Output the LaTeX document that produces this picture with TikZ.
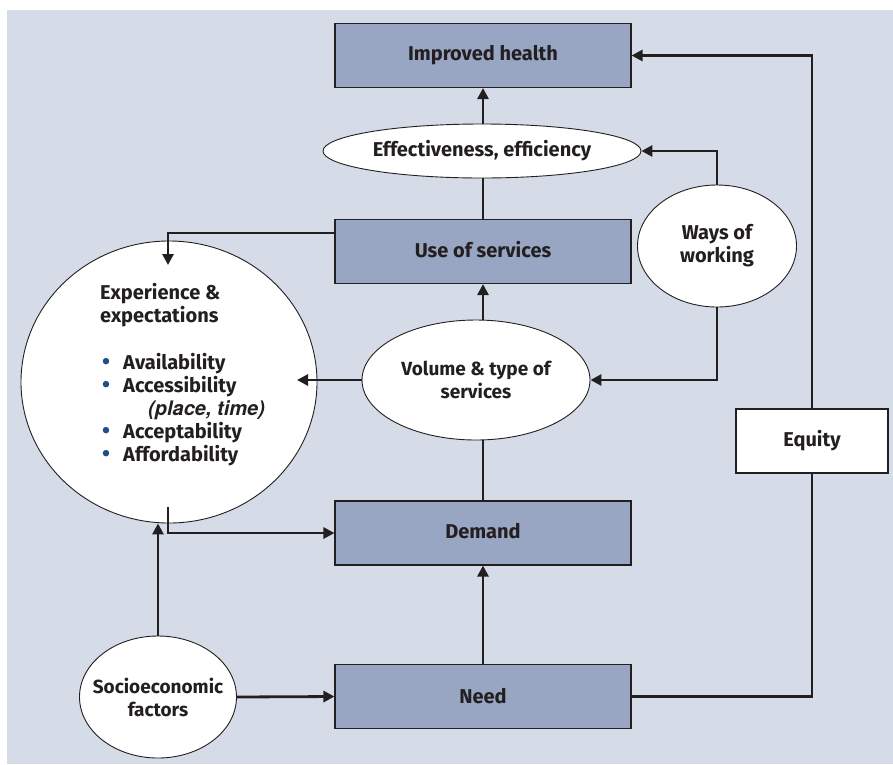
\documentclass[tikz,border=0pt]{standalone}
\usepackage{fontspec}
\usepackage{graphicx}
\setmainfont{Fira Sans}
\newfontfamily\heros{TeX Gyre Heros}
\usetikzlibrary{arrows.meta,shapes.geometric}

\definecolor{panel}{HTML}{D5DBE7}
\definecolor{boxfill}{HTML}{98A6C3}
\definecolor{ink}{HTML}{231F20}
\definecolor{bul}{HTML}{1F4E8C}

\newcommand{\blt}{\makebox[23pt][l]{\hspace*{2pt}\textcolor{bul}{\scalebox{1.15}{•}}}}

\tikzset{
  every node/.style={font=\fontsize{20}{23}\selectfont\bfseries, text=ink},
  bluebox/.style={draw=ink, line width=1.1pt, fill=boxfill, rectangle,
    minimum width=296pt, minimum height=64pt, inner sep=0pt},
  whitebox/.style={draw=ink, line width=1.1pt, fill=white, rectangle,
    minimum width=152pt, minimum height=64pt, inner sep=0pt},
  oval/.style={draw=ink, line width=0.9pt, fill=white, ellipse,
    inner sep=0pt, align=center},
  label/.style={inner sep=0pt, align=center},
  link/.style={draw=ink, line width=2.8pt},
  arr/.style={link, -{Triangle[length=11pt,width=11pt]}},
}

\begin{document}
\begin{tikzpicture}[x=1pt,y=-1pt]
  \useasboundingbox (0,0) rectangle (893,764);
  \fill[panel] (7,10) rectangle (893,764);

  % main chain of boxes
  \node[bluebox] (ih)   at (483,55.5)  {Improved health};
  \node[bluebox] (use)  at (483,251.5) {\raisebox{4pt}{Use of services}};
  \node[bluebox] (dem)  at (483,533)   {\raisebox{4pt}{Demand}};
  \node[bluebox] (need) at (483,696.5) {Need};
  \node[whitebox] (eq)  at (812,441)   {Equity};

  % ovals, drawn empty so that their size stays fixed; labels on top
  \node[oval, minimum width=318pt, minimum height=54pt]  (eff)  at (482,151) {};
  \node[oval, minimum width=159pt, minimum height=122pt] (ways) at (717,246) {};
  \node[oval, minimum width=228pt, minimum height=120pt] (vol)  at (476,380) {};
  \node[oval, minimum width=157pt, minimum height=122pt] (soc)  at (158,697) {};
  \node[oval, minimum width=296pt, minimum height=282pt] (exp)  at (169,382) {};

  \node[label] (efflbl)  at (eff)  {Effectiveness, efficiency};
  \node[label] (wayslbl) at (ways) {Ways of\\working};
  \node[label, font=\fontsize{19}{23}\selectfont\bfseries] (vollbl) at (vol) {Volume \& type of\\services};
  \node[label, font=\fontsize{19}{23}\selectfont\bfseries] (soclbl) at (soc) {Socioeconomic\\factors};

  % contents of the large circle
  \node[anchor=north west, inner sep=0pt, align=left] (explist) at (100,283)
    {Experience \&\\expectations\\[24pt]
     \blt Availability\\
     \blt Accessibility\\
     \hspace*{48pt}{\heros\bfseries\itshape (place, time)}\\
     \blt Acceptability\\
     \blt Affordability};

  % free ends inside the large circle
  \coordinate (expin)  at (168,265);
  \coordinate (expmid) at (297,380);
  \coordinate (expout) at (168,507);
  \coordinate (usel)   at (335,233);

  % connectors
  \draw[arr]  (eff.north -| ih.south) -- (ih.south);
  \draw[link] (use.north) -- (use.north |- eff.south);
  \draw[arr]  (use.south |- vol.north) -- (use.south);
  \draw[arr]  (ways.north) |- (eff.east);
  \draw[arr]  (ways.south) |- (vol.east);
  \draw[arr]  (usel) -| (expin);
  \draw[arr]  (vol.west) -- (expmid);
  \draw[arr]  (expout) |- (dem.west);
  \draw[link] (dem.north) -- (dem.north |- vol.south);
  \draw[arr]  (need.north) -- (dem.south);
  \draw[arr]  (soc.east) -- (need.west);
  \draw[arr]  (soc.north) -- (soc.north |- exp.south);
  \draw[link] (need.east) -| (eq.south);
  \draw[arr]  (eq.north) |- (ih.east);
\end{tikzpicture}
\end{document}
